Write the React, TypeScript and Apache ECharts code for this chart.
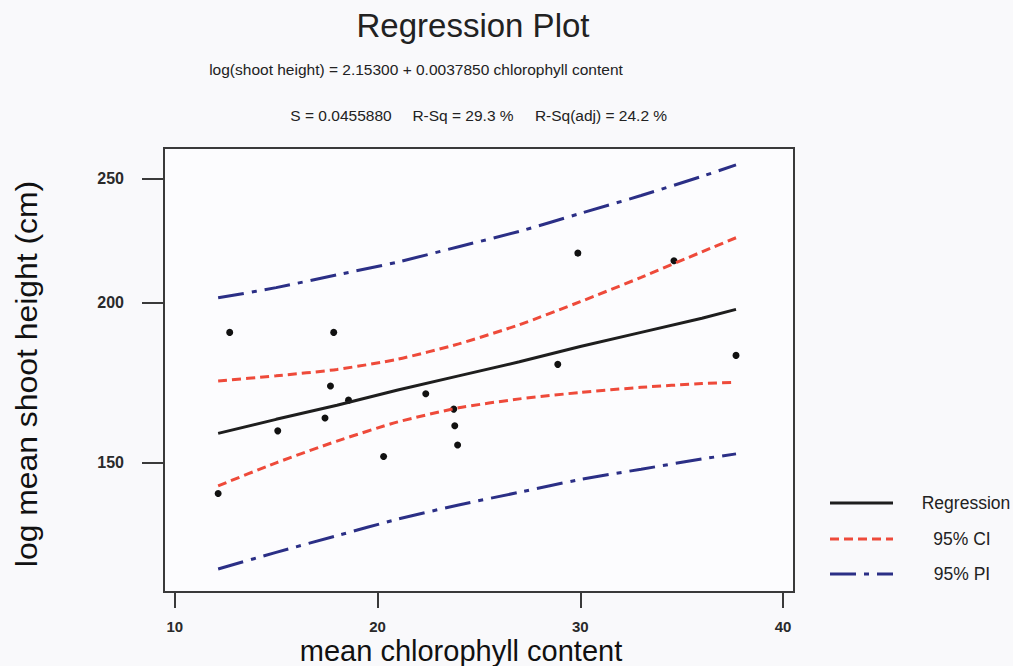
import React, { useEffect, useRef } from "react";
import * as echarts from "echarts";

// Observed data (x: mean chlorophyll content, y: log10 of mean shoot height)
const obsChlorophyll = [12.71, 17.84, 17.68, 18.57, 17.41, 15.08, 22.38, 23.76, 23.81, 23.95, 20.30, 12.14, 28.89, 29.88, 34.62, 37.68];
const obsLogHeight = [2.278, 2.278, 2.236, 2.225, 2.211, 2.201, 2.230, 2.218, 2.205, 2.190, 2.181, 2.152, 2.253, 2.340, 2.334, 2.260];

// Fitted curves
const fitX = [12.14, 15, 18, 21, 24, 27, 30, 33, 36, 37.68];
const regressionY = [2.199, 2.210, 2.221, 2.233, 2.244, 2.255, 2.267, 2.278, 2.289, 2.296];
const ciUpper = [2.240, 2.244, 2.249, 2.257, 2.269, 2.284, 2.302, 2.321, 2.341, 2.352];
const ciLower = [2.158, 2.176, 2.193, 2.208, 2.219, 2.226, 2.231, 2.235, 2.238, 2.239];
const piUpper = [2.305, 2.313, 2.323, 2.333, 2.345, 2.357, 2.371, 2.385, 2.400, 2.409];
const piLower = [2.093, 2.106, 2.119, 2.132, 2.143, 2.153, 2.163, 2.171, 2.179, 2.183];

// Axis ticks
const xTicks = [10, 20, 30, 40];
const yTickHeights = [150, 200, 250];

const FONT = "'Liberation Sans', Arial, sans-serif";

export default function App() {
  const ref = useRef<HTMLDivElement>(null);
  useEffect(() => {
    if (!ref.current) return;
    const chart = echarts.init(ref.current, undefined, { renderer: "svg" });
    const pair = (xs: number[], ys: number[]) => xs.map((x, i) => [x, ys[i]]);
    const axisColor = "#3a3a3a";
    const option: any = {
      animation: false,
      backgroundColor: "#f9f9fb",
      grid: {
        left: 164,
        top: 148,
        width: 630,
        height: 444,
        show: true,
        borderColor: axisColor,
        borderWidth: 2,
        backgroundColor: "#fcfcfe",
      },
      xAxis: {
        type: "value",
        min: 9.47,
        max: 40.54,
        splitLine: { show: false },
        axisLine: { show: true, lineStyle: { color: axisColor, width: 2 } },
        axisTick: {
          show: true,
          customValues: xTicks,
          length: 16,
          lineStyle: { color: axisColor, width: 2 },
        },
        axisLabel: {
          customValues: xTicks,
          margin: 27,
          fontSize: 15,
          fontWeight: "bold",
          color: "#2a2a2a",
          fontFamily: FONT,
        },
      },
      yAxis: {
        type: "value",
        min: 2.07498,
        max: 2.42218,
        splitLine: { show: false },
        axisLine: { show: true, lineStyle: { color: axisColor, width: 2 } },
        axisTick: {
          show: true,
          customValues: yTickHeights.map((h) => Math.log10(h)),
          length: 22,
          lineStyle: { color: axisColor, width: 2 },
        },
        axisLabel: {
          customValues: yTickHeights.map((h) => Math.log10(h)),
          formatter: (v: number) => String(Math.round(Math.pow(10, v))),
          margin: 40,
          fontSize: 16,
          fontWeight: "bold",
          color: "#2a2a2a",
          fontFamily: FONT,
        },
      },
      series: [
        {
          name: "95% PI upper",
          type: "line",
          data: pair(fitX, piUpper),
          showSymbol: false,
          smooth: 0.2,
          lineStyle: { color: "#2b2f86", width: 3, type: [26, 8, 5, 8] },
        },
        {
          name: "95% PI lower",
          type: "line",
          data: pair(fitX, piLower),
          showSymbol: false,
          smooth: 0.2,
          lineStyle: { color: "#2b2f86", width: 3, type: [26, 8, 5, 8] },
        },
        {
          name: "95% CI upper",
          type: "line",
          data: pair(fitX, ciUpper),
          showSymbol: false,
          smooth: 0.2,
          lineStyle: { color: "#ee4a3a", width: 3, type: [9, 5] },
        },
        {
          name: "95% CI lower",
          type: "line",
          data: pair(fitX, ciLower),
          showSymbol: false,
          smooth: 0.2,
          lineStyle: { color: "#ee4a3a", width: 3, type: [9, 5] },
        },
        {
          name: "Regression",
          type: "line",
          data: pair(fitX, regressionY),
          showSymbol: false,
          lineStyle: { color: "#1e1e1e", width: 3 },
        },
        {
          name: "Observed",
          type: "scatter",
          data: pair(obsChlorophyll, obsLogHeight),
          symbol: "circle",
          symbolSize: 7,
          itemStyle: { color: "#111", opacity: 1 },
        },
      ],
      graphic: [
        {
          type: "text",
          x: 473,
          y: 25,
          style: {
            text: "Regression Plot",
            font: `33px ${FONT}`,
            fill: "#222",
            textAlign: "center",
            textVerticalAlign: "middle",
          },
        },
        {
          type: "text",
          x: 416,
          y: 69,
          style: {
            text: "log(shoot height) = 2.15300 + 0.0037850 chlorophyll content",
            font: `15.5px ${FONT}`,
            fill: "#222",
            textAlign: "center",
            textVerticalAlign: "middle",
          },
        },
        {
          type: "text",
          x: 341,
          y: 115,
          style: { text: "S = 0.0455880", font: `15.5px ${FONT}`, fill: "#222", textAlign: "center", textVerticalAlign: "middle" },
        },
        {
          type: "text",
          x: 463,
          y: 115,
          style: { text: "R-Sq = 29.3 %", font: `15.5px ${FONT}`, fill: "#222", textAlign: "center", textVerticalAlign: "middle" },
        },
        {
          type: "text",
          x: 601,
          y: 115,
          style: { text: "R-Sq(adj) = 24.2 %", font: `15.5px ${FONT}`, fill: "#222", textAlign: "center", textVerticalAlign: "middle" },
        },
        {
          type: "text",
          x: 461,
          y: 651,
          style: {
            text: "mean chlorophyll content",
            font: `29px ${FONT}`,
            fill: "#111",
            textAlign: "center",
            textVerticalAlign: "middle",
          },
        },
        {
          type: "text",
          x: 27,
          y: 374,
          rotation: Math.PI / 2,
          scaleX: 1.1,
          style: {
            text: "log mean shoot height (cm)",
            font: `29px ${FONT}`,
            fill: "#111",
            textAlign: "center",
            textVerticalAlign: "middle",
          },
        },
        // legend
        { type: "line", shape: { x1: 830, y1: 503, x2: 893, y2: 503 }, style: { stroke: "#1e1e1e", lineWidth: 3 } },
        { type: "line", shape: { x1: 830, y1: 539, x2: 893, y2: 539 }, style: { stroke: "#ee4a3a", lineWidth: 3, lineDash: [9, 5] } },
        { type: "line", shape: { x1: 830, y1: 574, x2: 893, y2: 574 }, style: { stroke: "#2b2f86", lineWidth: 3, lineDash: [26, 8, 5, 8] } },
        { type: "text", x: 966, y: 503, style: { text: "Regression", font: `17.5px ${FONT}`, fill: "#222", textAlign: "center", textVerticalAlign: "middle" } },
        { type: "text", x: 962, y: 539, style: { text: "95% CI", font: `17.5px ${FONT}`, fill: "#222", textAlign: "center", textVerticalAlign: "middle" } },
        { type: "text", x: 962, y: 574, style: { text: "95% PI", font: `17.5px ${FONT}`, fill: "#222", textAlign: "center", textVerticalAlign: "middle" } },
      ],
    };
    chart.setOption(option);
    return () => chart.dispose();
  }, []);
  return (
    <div
      ref={ref}
      style={{ position: "fixed", left: 0, top: 0, width: 1013, height: 666 }}
    />
  );
}
